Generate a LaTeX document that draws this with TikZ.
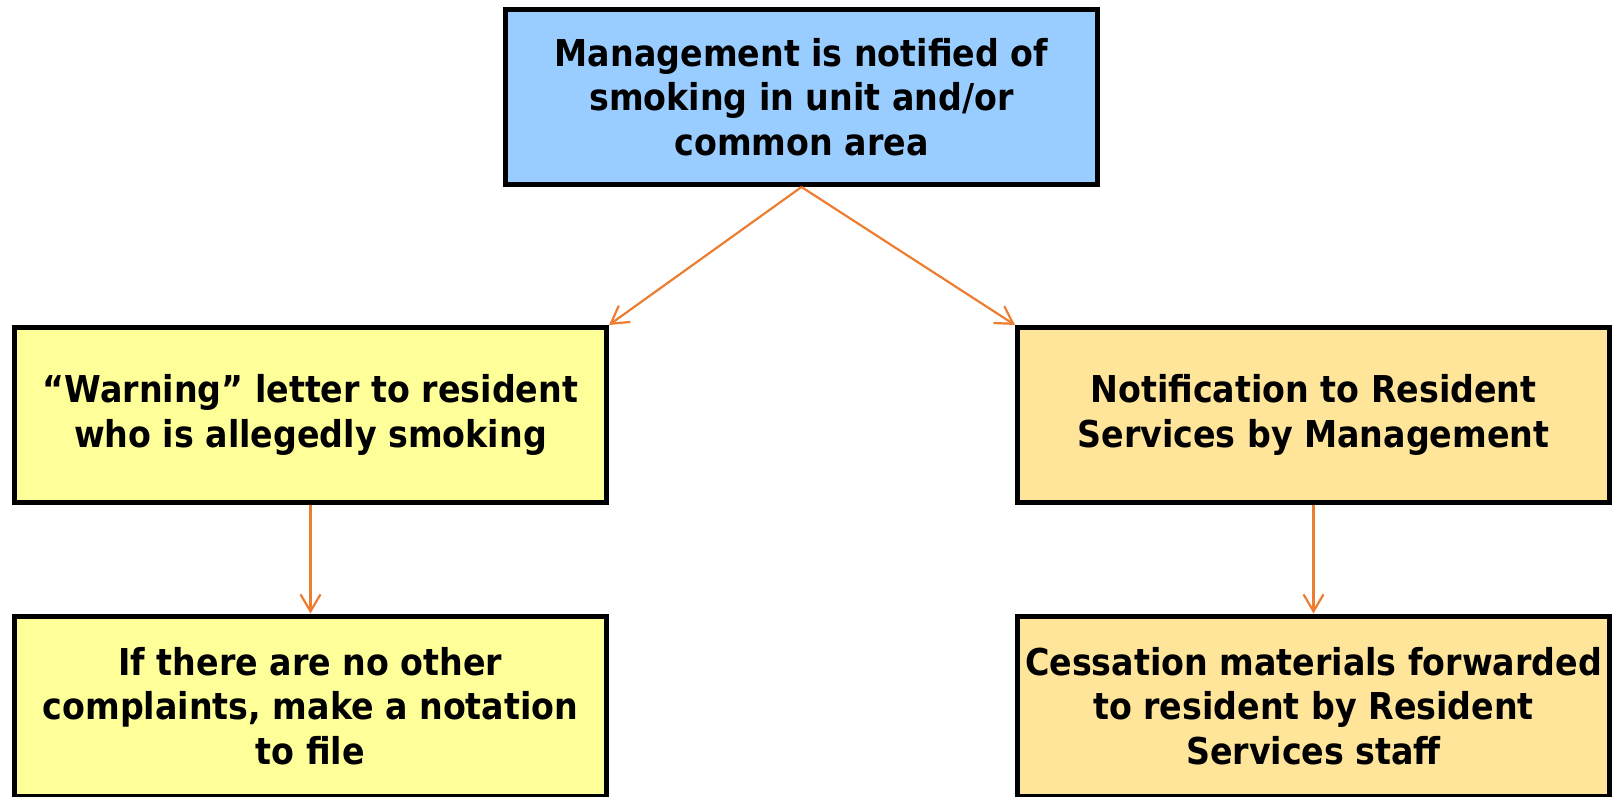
\documentclass[tikz,border=0pt]{standalone}
\usepackage{fontspec}
\setmainfont{DejaVu Sans Condensed}[BoldFont={DejaVu Sans Condensed Bold}]
\usetikzlibrary{arrows.meta}
\definecolor{topblue}{HTML}{99CCFF}
\definecolor{lyellow}{HTML}{FFFF99}
\definecolor{ltan}{HTML}{FFE599}
\definecolor{arrorange}{HTML}{ED7D31}
\tikzset{
  box/.style={draw=black, line width=5pt, minimum width=592pt, minimum height=175pt,
    align=center, inner sep=0pt, font=\fontsize{37}{44.5}\selectfont\bfseries},
  conn/.style={draw=arrorange, line width=2.2pt, -{Straight Barb[length=17pt,width=20pt,line width=2.2pt]}}
}
\begin{document}
\begin{tikzpicture}[x=1pt,y=-1pt]
\useasboundingbox (0,0) rectangle (1614,797);
\node[box, fill=topblue] (top) at (801.5,97) {Management is notified of\\smoking in unit and/or\\common area};
\node[box, fill=lyellow] (warn) at (310.5,415) {“Warning” letter to resident\\who is allegedly smoking};
\node[box, fill=ltan] (notif) at (1313.5,415) {Notification to Resident\\Services by Management};
\node[box, fill=lyellow, minimum height=180pt] (file) at (310.5,706) {If there are no other\\complaints, make a notation\\to file};
\node[box, fill=ltan, minimum height=180pt] (cess) at (1313.5,706) {Cessation materials forwarded\\to resident by Resident\\Services staff};
\draw[conn] (top.south) -- (warn.north east);
\draw[conn] (top.south) -- (notif.north west);
\draw[conn] (warn.south) -- (file.north);
\draw[conn] (notif.south) -- (cess.north);
\end{tikzpicture}
\end{document}
